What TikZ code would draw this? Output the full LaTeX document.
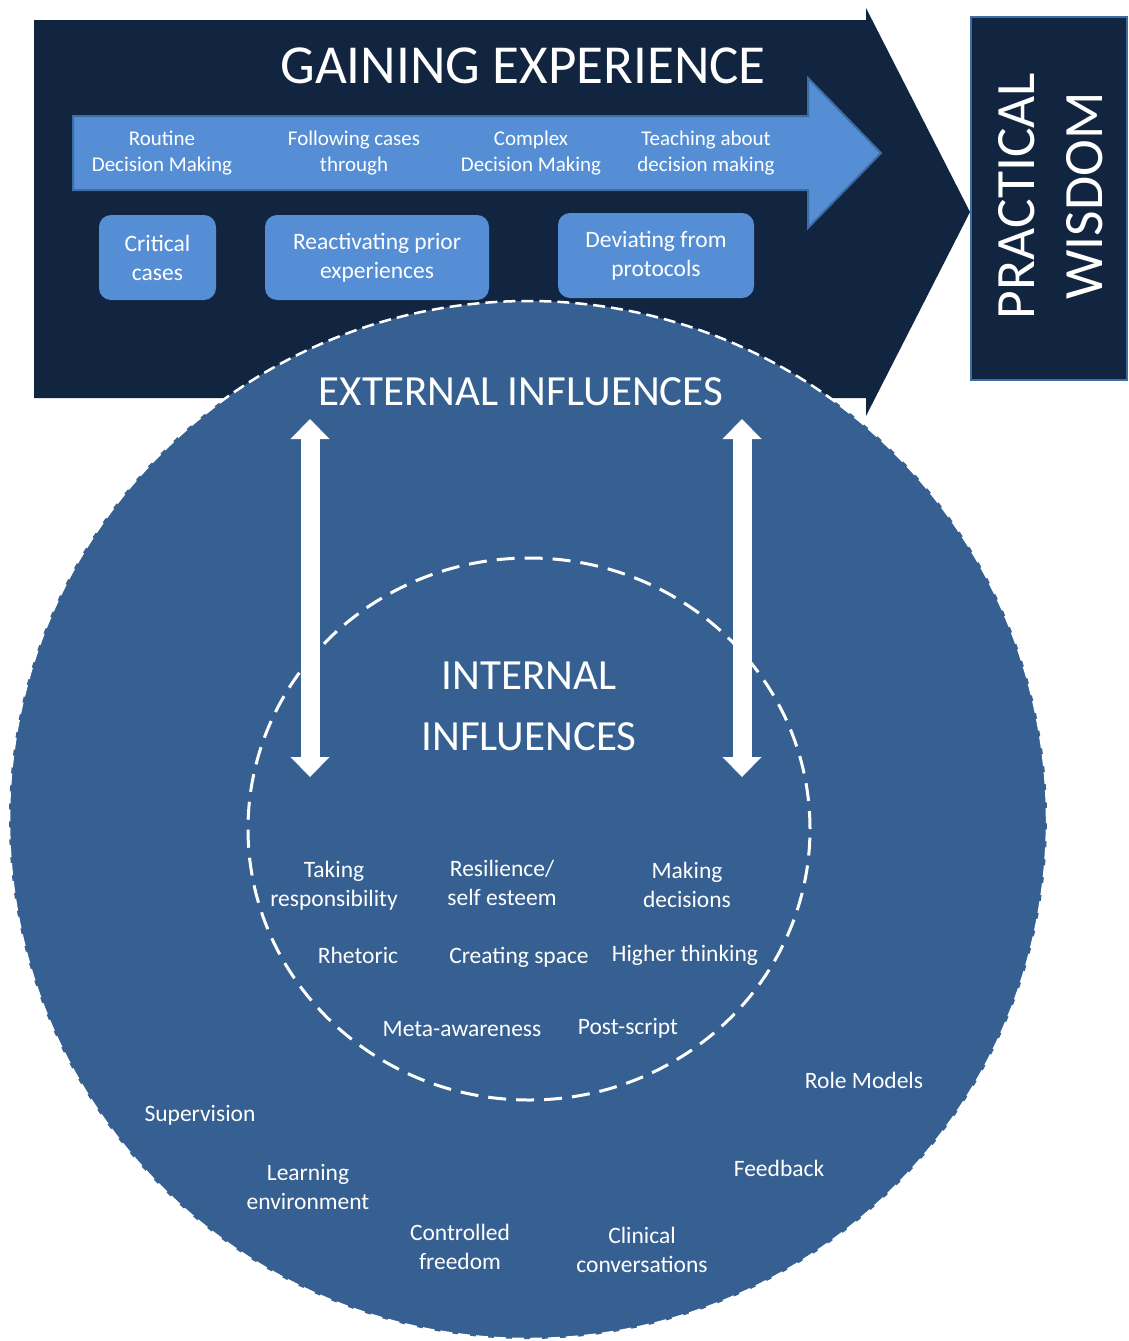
\documentclass[tikz,border=0pt]{standalone}
\usepackage{fontspec}
\setmainfont{Carlito}
\usepackage{xcolor}
\usepackage{tikz}
\usetikzlibrary{arrows.meta}

\definecolor{navy}{RGB}{18,37,64}
\definecolor{lightblue}{RGB}{85,142,213}
\definecolor{edgeblue}{RGB}{62,108,165}
\definecolor{circleblue}{RGB}{55,96,146}

\tikzset{
	arrowtext/.style = {text = white, align = center, font = \fontsize{21}{26}\selectfont},
	stepbox/.style = {rectangle, rounded corners = 12pt, fill = lightblue, text = white, align = center, inner sep = 0pt, font = \fontsize{23.5}{29}\selectfont},
	factor/.style = {text = white, align = center, font = \fontsize{23.5}{29}\selectfont},
	heading/.style = {text = white, align = center, font = \fontsize{43}{61}\selectfont},
	updown/.style = {draw = white, line width = 19pt}
}

\begin{document}
\begin{tikzpicture}[x = 1pt, y = -1pt]
			\useasboundingbox (0, 0) rectangle (1128, 1341);
			
			% gaining experience
			\fill [navy] (34, 20) -- (866, 20) -- (866, 8) -- (970, 212) -- (866, 416) -- (866, 398) -- (34, 398) -- cycle;
			\filldraw [fill = lightblue, draw = edgeblue, line width = 2pt] (73, 116) -- (808, 116) -- (808, 78) -- (881, 153) -- (808, 228) -- (808, 190) -- (73, 190) -- cycle;
			
			\node (gain) [heading, font = \fontsize{55}{60}\selectfont] at (523, 66) {GAINING EXPERIENCE};
			
			\begin{scope}[every node/.style = {arrowtext}]
			\node (routine) at (162, 153) {Routine\\Decision Making};
			\node (following) at (354, 153) {Following cases\\through};
			\node (complex) at (531, 153) {Complex\\Decision Making};
			\node (teaching) at (706, 153) {Teaching about\\decision making};
			\end{scope}
			
			\node (critical) [stepbox, minimum width = 117pt, minimum height = 85pt] at (157.5, 257.5) {Critical\\cases};
			\node (reactivating) [stepbox, minimum width = 224pt, minimum height = 85pt] at (377, 257.5) {Reactivating prior\\experiences};
			\node (deviating) [stepbox, minimum width = 196pt, minimum height = 85pt] at (656, 255.5) {Deviating from\\protocols};
			
			% practical wisdom
			\node (wisdom) [rectangle, fill = navy, draw = edgeblue, line width = 2pt, minimum width = 156pt, minimum height = 363pt, inner sep = 0pt] at (1048.5, 198.5) {};
			\node (wisdomtext) [text = white, rotate = 90, align = center, font = \fontsize{55.5}{68}\selectfont] at (1051, 196) {PRACTICAL\\WISDOM};
			
			% influences
			\filldraw [fill = circleblue, draw = white, line width = 2.5pt, dash pattern = on 12pt off 6pt] (528, 820) circle [radius = 519pt];
			\draw [white, line width = 3pt, dash pattern = on 18pt off 10pt] (529, 829) ellipse [x radius = 281pt, y radius = 271pt];
			
			\node (external) [heading] at (521, 392) {EXTERNAL INFLUENCES};
			\node (internal) [heading] at (529, 706) {INTERNAL\\INFLUENCES};
			
			\coordinate (lefttop) at (310, 419);
			\coordinate (leftbot) at (310, 777);
			\coordinate (righttop) at (742, 419);
			\coordinate (rightbot) at (742, 777);
			
			\begin{scope}[>={Triangle[width = 39pt, length = 20pt, line width = 0pt, fill = white]}]
			\draw [updown, <->] (lefttop) -- (leftbot);
			\draw [updown, <->] (righttop) -- (rightbot);
			\end{scope}
			
			\begin{scope}[every node/.style = {factor}]
			\node (taking) at (334, 886) {Taking\\responsibility};
			\node (resilience) at (502, 883) {Resilience/\\self esteem};
			\node (making) at (687, 885) {Making\\decisions};
			\node (rhetoric) at (358, 955) {Rhetoric};
			\node (creating) at (519, 957) {Creating space};
			\node (higher) at (685, 955) {Higher thinking};
			\node (meta) at (462, 1029) {Meta-awareness};
			\node (postscript) at (628, 1028) {Post-script};
			\node (rolemodels) at (864, 1080) {Role Models};
			\node (supervision) at (200, 1115) {Supervision};
			\node (learning) at (308, 1187) {Learning\\environment};
			\node (feedback) at (779, 1168) {Feedback};
			\node (controlled) at (460, 1247) {Controlled\\freedom};
			\node (clinical) at (642, 1250) {Clinical\\conversations};
			\end{scope}
			
\end{tikzpicture}
\end{document}
